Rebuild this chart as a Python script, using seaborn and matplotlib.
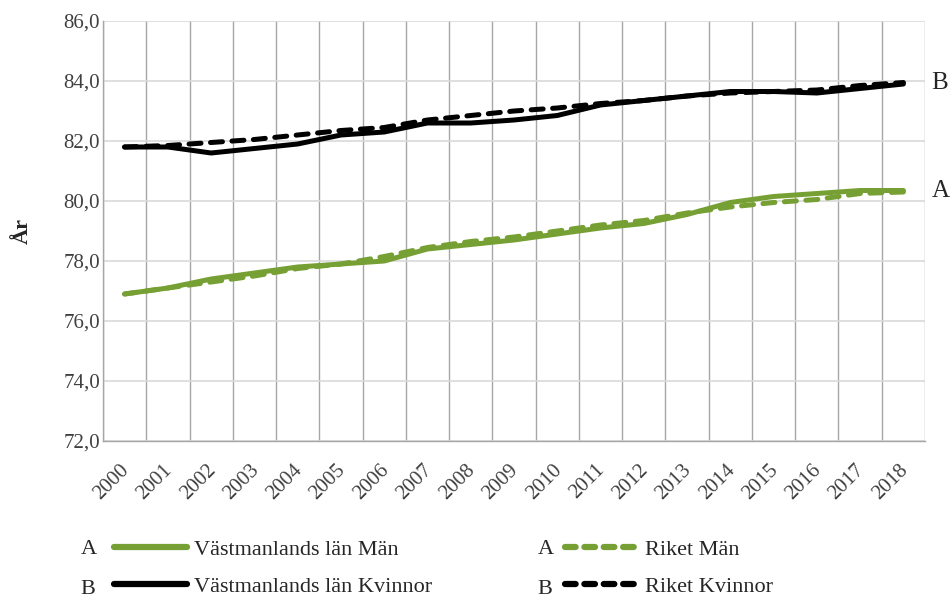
import pandas as pd
import matplotlib.pyplot as plt
import seaborn as sns
import numpy as np
from matplotlib.lines import Line2D
from matplotlib.ticker import FixedLocator, FuncFormatter
from matplotlib.transforms import ScaledTranslation

# data
years = list(range(2000, 2019))
vastm_man = [76.9, 77.1, 77.4, 77.6, 77.8, 77.9, 78.0, 78.4, 78.55, 78.7,
             78.9, 79.1, 79.25, 79.55, 79.95, 80.15, 80.25, 80.35, 80.35]
riket_man = [76.9, 77.1, 77.3, 77.5, 77.75, 77.9, 78.15, 78.45, 78.65, 78.8,
             79.0, 79.2, 79.35, 79.6, 79.8, 79.95, 80.05, 80.25, 80.3]
vastm_kv = [81.8, 81.8, 81.6, 81.75, 81.9, 82.2, 82.3, 82.6, 82.6, 82.7,
            82.85, 83.2, 83.35, 83.5, 83.65, 83.65, 83.6, 83.75, 83.9]
riket_kv = [81.8, 81.85, 81.95, 82.05, 82.2, 82.35, 82.45, 82.7, 82.85, 83.0,
            83.1, 83.25, 83.35, 83.5, 83.6, 83.65, 83.7, 83.85, 83.95]

green = "#76a033"
black = "#000000"

df = pd.DataFrame({
    "idx": np.arange(len(years)),
    "Västmanlands län Män": vastm_man,
    "Riket Män": riket_man,
    "Västmanlands län Kvinnor": vastm_kv,
    "Riket Kvinnor": riket_kv,
})

sns.set_theme(style="white")
plt.rcParams['font.family'] = ['Liberation Serif', 'DejaVu Serif']

fig = plt.figure(figsize=(9.5, 6.16), dpi=100)
ax = fig.add_axes([0.1084, 0.2841, 0.8653, 0.6818])

series = [
    ("Västmanlands län Män", green, "-"),
    ("Riket Män", green, "--"),
    ("Västmanlands län Kvinnor", black, "-"),
    ("Riket Kvinnor", black, "--"),
]
for name, col, ls in series:
    sns.lineplot(data=df, x="idx", y=name, ax=ax, color=col, linewidth=3.6,
                 linestyle=ls, solid_capstyle="round", dash_capstyle="round")
for ln in ax.get_lines():
    if ln.get_linestyle() == "--":
        ln.set_dashes((2.4, 1.9))

ax.set_xlim(-0.5, len(years) - 0.5)
ax.set_ylim(72, 86)
ax.yaxis.set_major_locator(FixedLocator(np.arange(72, 86.1, 2)))
ax.yaxis.set_major_formatter(FuncFormatter(lambda v, p: f"{v:.1f}".replace(".", ",")))
ax.set_xticks(np.arange(len(years)))
ax.set_xticklabels([str(y) for y in years], rotation=45, ha="right",
                   rotation_mode="anchor")
ax.xaxis.set_minor_locator(FixedLocator(np.arange(len(years) + 1) - 0.5))
ax.grid(axis="y", which="major", color="#d9d9d9", linewidth=1.2)
ax.grid(axis="x", which="minor", color="#a6a6a6", linewidth=1.0)
ax.set_axisbelow(True)
ax.tick_params(axis="both", which="both", length=0, labelsize=15,
               colors="#404040")
ax.tick_params(axis="x", pad=14)
ax.tick_params(axis="y", pad=2)
shift = ScaledTranslation(-5 / 100, 0, fig.dpi_scale_trans)
for lab in ax.get_xticklabels():
    lab.set_transform(lab.get_transform() + shift)
for s in ["top", "right"]:
    ax.spines[s].set_visible(False)
for s in ["left", "bottom"]:
    ax.spines[s].set_color("#a6a6a6")
    ax.spines[s].set_linewidth(1.0)

ax.set_xlabel("")
ax.set_ylabel("År", fontsize=16, fontweight="bold", color="#262626", labelpad=22)

# A / B markers at line ends
ax.text(1.008, (83.95 - 72) / 14, "B", transform=ax.transAxes, fontsize=18,
        va="center", ha="left")
ax.text(1.008, (80.35 - 72) / 14, "A", transform=ax.transAxes, fontsize=18,
        va="center", ha="left")

# legend
def handle(col, ls):
    h = Line2D([0], [0], color=col, linewidth=4.5, linestyle=ls,
               solid_capstyle="round", dash_capstyle="round")
    if ls == "--":
        h.set_dashes((1.7, 1.4))
    return h

leg_kw = dict(loc="center left", frameon=False, fontsize=16, handlelength=3.3,
              handletextpad=0.3, labelspacing=0.75, borderaxespad=0,
              borderpad=0)
fig.legend([handle(green, "-"), handle(black, "-")],
           ["Västmanlands län Män", "Västmanlands län Kvinnor"],
           bbox_to_anchor=(0.12, 1 - 568 / 616), **leg_kw)
fig.legend([handle(green, "--"), handle(black, "--")],
           ["Riket Män", "Riket Kvinnor"],
           bbox_to_anchor=(0.595, 1 - 568 / 616), **leg_kw)
for x in (0.085, 0.566):
    fig.text(x, 1 - 549 / 616, "A", fontsize=16, va="center")
    fig.text(x, 1 - 589 / 616, "B", fontsize=16, va="center")

plt.savefig("out.png", dpi=100)
